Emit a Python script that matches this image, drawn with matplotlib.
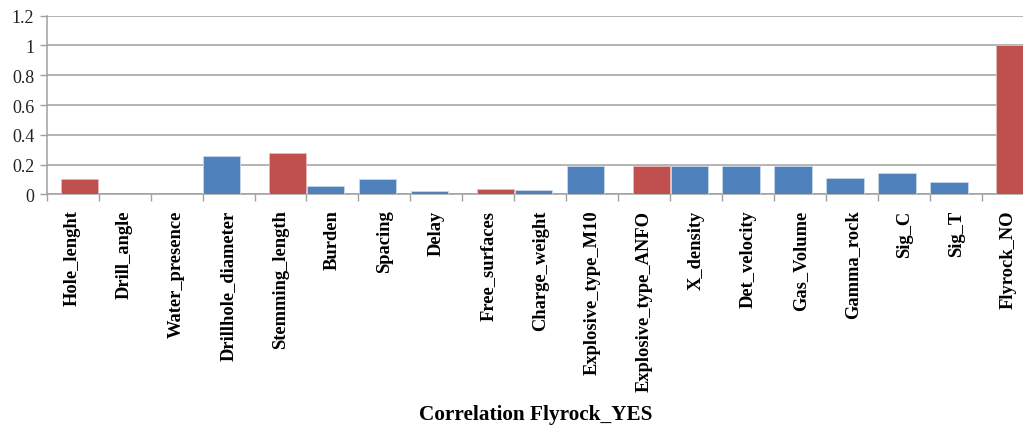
"""
Bar chart of correlations with Flyrock_YES.
"""

import numpy as np
import matplotlib
matplotlib.use("Agg")
import matplotlib.pyplot as plt

# Variables and their correlation with Flyrock_YES
variables = [
    "Hole_lenght", "Drill_angle", "Water_presence", "Drillhole_diameter",
    "Stemming_length", "Burden", "Spacing", "Delay", "Free_surfaces",
    "Charge_weight", "Explosive_type_M10", "Explosive_type_ANFO", "X_density",
    "Det_velocity", "Gas_Volume", "Gamma_rock", "Sig_C", "Sig_T", "Flyrock_NO",
]
# negative correlations (drawn red, magnitude shown)
negative = [0.10, 0, 0, 0, 0.28, 0, 0, 0, 0.034, 0, 0, 0.19, 0, 0, 0, 0, 0, 0, 1.0]
# positive correlations (drawn blue)
positive = [0, 0, 0, 0.26, 0, 0.056, 0.10, 0.02, 0, 0.027, 0.19, 0, 0.19,
            0.19, 0.19, 0.11, 0.143, 0.083, 0]
yticks = [0, 0.2, 0.4, 0.6, 0.8, 1, 1.2]
ytick_labels = ["0", "0.2", "0.4", "0.6", "0.8", "1", "1.2"]

RED = "#C0504D"
BLUE = "#4F81BD"
GRID = "#A0A0A0"

fig = plt.figure(figsize=(10.23, 4.27), dpi=100)
ax = fig.add_axes([0.0456, 0.5426, 0.9652, 0.4183])

x = np.arange(len(variables))
width = 0.72
ax.bar(x - 0.135, positive, width=width, color=BLUE, edgecolor="#C9D7EA",
       linewidth=0.6, zorder=3)
ax.bar(x + 0.135, negative, width=width, color=RED, edgecolor="#E6B9B8",
       linewidth=0.6, zorder=3)

ax.set_xlim(-0.5, len(variables) - 0.5)
ax.set_ylim(0, 1.2)

ax.set_yticks(yticks)
ax.set_yticklabels(ytick_labels, fontfamily="Liberation Serif", fontsize=13,
                   color="#222222")
ax.yaxis.grid(True, color=GRID, linewidth=1.1, zorder=0)
ax.tick_params(axis="y", length=5, width=1, color=GRID, pad=4)

ax.set_xticks(x)
ax.set_xticklabels(variables, rotation=90, fontfamily="Liberation Serif",
                   fontweight="bold", fontsize=13.3)
ax.set_xticks(np.arange(-0.5, len(variables)), minor=True)
ax.tick_params(axis="x", which="major", length=0, pad=11)
ax.tick_params(axis="x", which="minor", length=5, width=1, color=GRID)

for side in ("top", "right"):
    ax.spines[side].set_visible(False)
for side in ("left", "bottom"):
    ax.spines[side].set_color(GRID)
    ax.spines[side].set_linewidth(1.1)

fig.text(0.524, 0.005, "Correlation Flyrock_YES", ha="center", va="bottom",
         fontfamily="Liberation Serif", fontweight="bold", fontsize=15.3)

fig.savefig("out.png", dpi=100)
